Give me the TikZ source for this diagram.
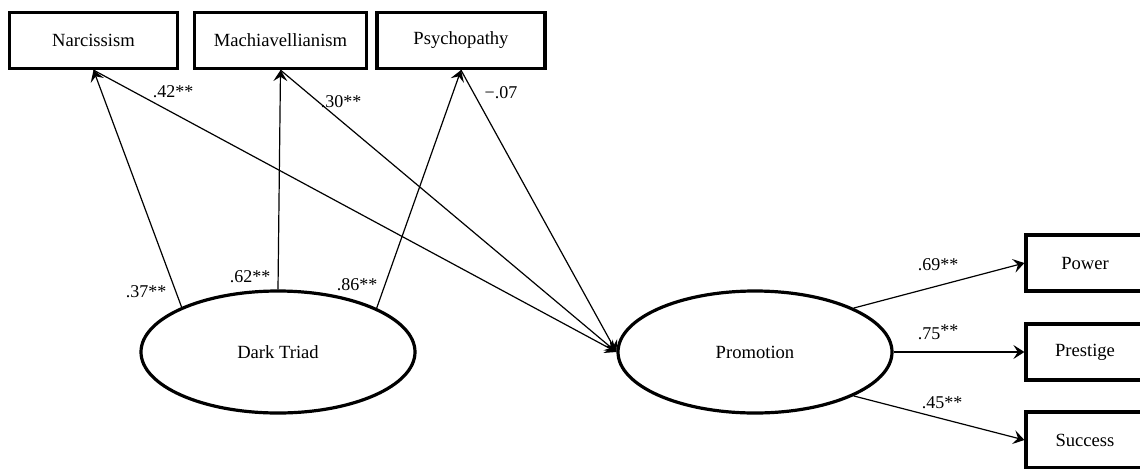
\documentclass[tikz,border=0pt]{standalone}
\usepackage{fontspec}
\setmainfont{Liberation Serif}
\usetikzlibrary{arrows.meta,shapes.geometric}

\begin{document}
\begin{tikzpicture}[
    x=0.5pt, y=0.5pt,
    font=\fontsize{9.3}{11}\selectfont,
    box/.style={draw, line width=1.6pt, minimum height=28pt, inner sep=0pt},
    latent/.style={draw, ellipse, line width=1.6pt, minimum width=137pt, minimum height=61pt, inner sep=0pt},
    arr/.style={-{Stealth[length=5.5pt, width=7pt, inset=2.2pt]}, line width=0.6pt},
    lbl/.style={font=\fontsize{9}{10}\selectfont, inner sep=1pt},
  ]
  \path[use as bounding box] (0,0) rectangle (1140,468);
  \clip (0,0) rectangle (1140,468);

  % ===== observed: dark triad facets =====
  \node[box, minimum width=84pt] (narc)  at (93.5,427.5) {Narcissism};
  \node[box, minimum width=86pt] (mach)  at (280.5,427.5) {Machiavellianism};
  \node[box, minimum width=84pt] (psych) at (461,427.5)   {Psychopathy};

  % ===== latent variables =====
  \node[latent] (dt)   at (278,116) {Dark Triad};
  \node[latent] (prom) at (755,116) {Promotion};

  % ===== observed: promotion facets =====
  \node[box, minimum width=59pt] (power) at (1085,205) {Power};
  \node[box, minimum width=59pt] (prest) at (1085,116) {Prestige};
  \node[box, minimum width=59pt] (succ)  at (1085,28)  {Success};

  % loadings of the dark triad
  \draw[arr] (dt.155) -- (narc.south);
  \draw[arr] (dt.north) -- (mach.south);
  \draw[arr] (dt.24) -- (psych.south);

  % facets predicting promotion
  \draw[arr] (narc.south)  -- (prom.west);
  \draw[arr] (mach.south)  -- (prom.west);
  \draw[arr] (psych.south) -- (prom.west);

  % loadings of promotion
  \draw[arr] (prom.24)  -- (power.west);
  \draw[arr] (prom.east) -- (prest.west);
  \draw[arr] (prom.-24) -- (succ.west);

  % coefficients
  \node[lbl] (l37) at (146,176) {.37**};
  \node[lbl] (l62) at (250,191) {.62**};
  \node[lbl] (l86) at (357,183) {.86**};
  \node[lbl] (l42) at (173,376) {.42**};
  \node[lbl] (l30) at (341,366) {.30**};
  \node[lbl] (l07) at (501,375) {−.07};
  \node[lbl] (l69) at (938,203) {.69**};
  \node[lbl] (l75) at (938,136) {.75\raisebox{0.4ex}{**}};
  \node[lbl] (l45) at (942,65)  {.45**};

\end{tikzpicture}
\end{document}
